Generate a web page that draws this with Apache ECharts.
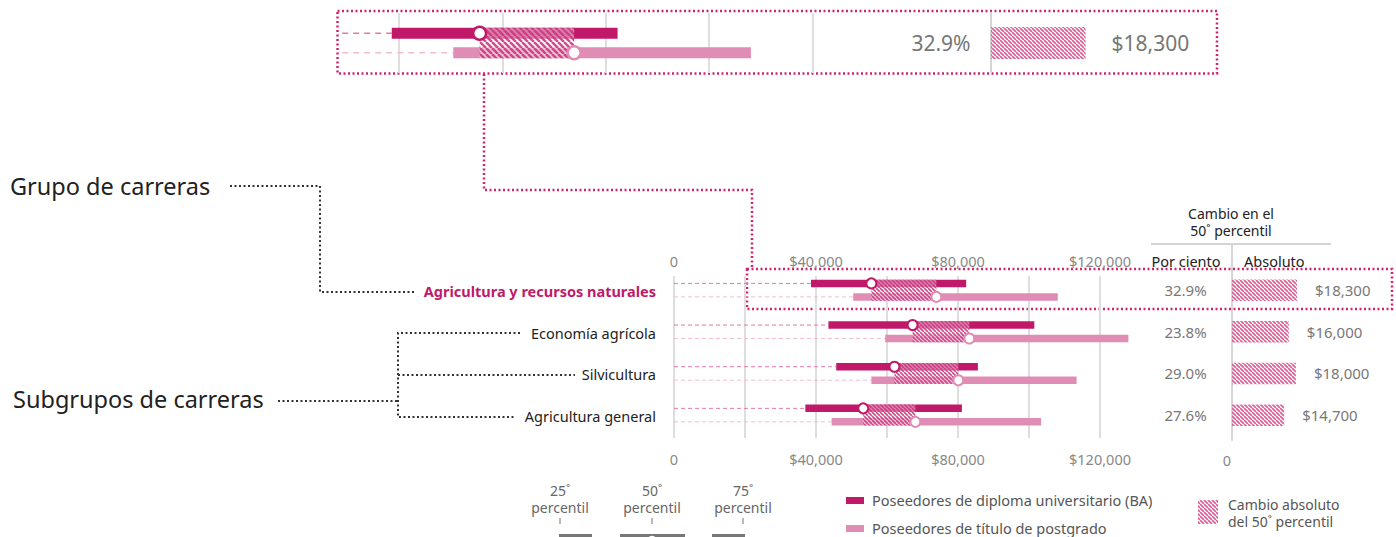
<!DOCTYPE html>
<html>
<head>
<meta charset="UTF-8">
<title>Agricultura y recursos naturales</title>
<script src="https://cdn.jsdelivr.net/npm/echarts@6/dist/echarts.min.js"></script>
<style>
  html, body { margin: 0; padding: 0; background: #fff; }
  #chart { width: 1396px; height: 537px; }
</style>
</head>
<body>
<div id="chart"></div>
<script>
// 数据
var categories = ['Agricultura y recursos naturales', 'Economía agrícola', 'Silvicultura', 'Agricultura general'];
var baP25 = [38600, 43500, 45700, 37000];
var baP50 = [55600, 67200, 62100, 53300];
var baP75 = [82300, 101500, 85600, 81100];
var gradP25 = [50500, 59500, 55600, 44400];
var gradP50 = [73900, 83200, 80100, 68000];
var gradP75 = [108100, 128000, 113400, 103400];
var pctChange = ['32.9%', '23.8%', '29.0%', '27.6%'];
var absChange = [18300, 16000, 18000, 14700];
var xTickLabels = [0, 40000, 80000, 120000];
var insetDashFrom = 29000;

var BA = '#c0196a', GRAD = '#e08db5', FONT = '"Noto Sans", sans-serif';

function money(v) { return v === 0 ? '0' : '$' + v.toLocaleString('en-US'); }

// 斜线纹理
function hatch(size, stripe, bg) {
  var cv = document.createElement('canvas');
  cv.width = size; cv.height = size;
  var ctx = cv.getContext('2d');
  if (bg) { ctx.fillStyle = bg; ctx.fillRect(0, 0, size, size); }
  ctx.strokeStyle = stripe;
  ctx.lineWidth = size * 0.42;
  ctx.beginPath();
  for (var k = -1; k <= 1; k++) { ctx.moveTo(k * size, 0); ctx.lineTo(k * size + size, size); }
  ctx.stroke();
  return { image: cv, repeat: 'repeat', imageWidth: size, imageHeight: size };
}
var hatchMain = hatch(4, 'rgba(205,55,128,0.9)', 'rgba(255,255,255,0.45)');
var hatchInset = hatch(6, 'rgba(205,55,128,0.9)', 'rgba(255,255,255,0.45)');
var hatchAbs = hatch(4, '#dc5f98', null);

var rows = categories.map(function (c, i) {
  return [i, baP25[i], baP50[i], baP75[i], gradP25[i], gradP50[i], gradP75[i]];
});

function rangeRender(o) {
  return function (params, api) {
    var row = api.value(0);
    var yc = api.coord([0, row])[1];
    var yB = yc - o.off, yG = yc + o.off;
    var X = function (v) { return api.coord([v, row])[0]; };
    var xs = X(o.dashFrom);
    var b25 = X(api.value(1)), b50 = X(api.value(2)), b75 = X(api.value(3));
    var g25 = X(api.value(4)), g50 = X(api.value(5)), g75 = X(api.value(6));
    var h = o.barH;
    var kids = [
      { type: 'line', shape: { x1: xs, y1: yB, x2: b25, y2: yB }, style: { stroke: '#e27aa9', lineWidth: o.dashW, lineDash: o.dash } },
      { type: 'line', shape: { x1: xs, y1: yG, x2: g25, y2: yG }, style: { stroke: '#f2bcd4', lineWidth: o.dashW, lineDash: o.dash } },
      { type: 'rect', shape: { x: b25, y: yB - h / 2, width: b75 - b25, height: h }, style: { fill: BA } },
      { type: 'rect', shape: { x: g25, y: yG - h / 2, width: g75 - g25, height: h }, style: { fill: GRAD } },
      { type: 'rect', shape: { x: b50, y: yB - h / 2, width: g50 - b50, height: yG - yB + h }, style: { fill: o.pattern } },
      { type: 'circle', shape: { cx: b50, cy: yB, r: o.r }, style: { fill: '#fff', stroke: BA, lineWidth: o.rw } },
      { type: 'circle', shape: { cx: g50, cy: yG, r: o.r }, style: { fill: '#fff', stroke: GRAD, lineWidth: o.rw } }
    ];
    if (o.labels) {
      kids.push({
        type: 'text', x: X(0) - 18, y: yc + 1,
        style: {
          text: categories[row], align: 'right', verticalAlign: 'middle',
          fill: row === 0 ? BA : '#222', fontFamily: FONT,
          fontSize: 14.5, fontWeight: row === 0 ? 'bold' : 'normal'
        }
      });
    }
    return { type: 'group', children: kids };
  };
}

function absRender(o) {
  return function (params, api) {
    var row = api.value(0);
    var p0 = api.coord([0, row]);
    var w = api.size([api.value(1), 0])[0];
    return {
      type: 'group', children: [
        { type: 'rect', shape: { x: p0[0], y: p0[1] - o.h / 2, width: w, height: o.h }, style: { fill: o.pattern } },
        { type: 'text', x: p0[0] - o.pctGap, y: p0[1], style: { text: pctChange[row], align: 'center', verticalAlign: 'middle', fill: '#777', fontFamily: FONT, fontSize: o.fs } },
        { type: 'text', x: p0[0] + w + o.valGap, y: p0[1], style: { text: money(api.value(1)), align: 'left', verticalAlign: 'middle', fill: '#777', fontFamily: FONT, fontSize: o.fs } }
      ]
    };
  };
}

var axisLbl = { color: '#888', fontSize: 14.5, fontFamily: FONT, interval: 0,
  formatter: function (v) { return xTickLabels.indexOf(v) >= 0 ? money(v) : ''; } };

var gridLine = { show: true, lineStyle: { color: '#dedede', width: 2 } };

var txt = function (x, y, s, size, color, align, lh) {
  return { type: 'text', x: x, y: y, style: { text: s, fill: color, fontSize: size, fontFamily: FONT, align: align || 'left', verticalAlign: 'middle', lineHeight: lh || Math.ceil(size * 1.25) } };
};
var dotted = function (pts, color, w) {
  return { type: 'polyline', shape: { points: pts }, style: { stroke: color, lineWidth: w, lineDash: [2, 2.5], fill: null } };
};
var MAG = '#d1246f';

var chart = echarts.init(document.getElementById('chart'), null, { renderer: 'svg' });
chart.setOption({
  animation: false,
  grid: [
    { left: 674, top: 276, width: 461.5, height: 162 },
    { left: 295.65, top: 13, width: 516.75, height: 60 },
    { left: 1232, top: 245, width: 142, height: 195 },
    { left: 991, top: 13, width: 206.7, height: 60 }
  ],
  xAxis: [
    { gridIndex: 0, type: 'value', position: 'bottom', min: 0, max: 130000, interval: 20000,
      axisLine: { show: false }, axisTick: { show: false }, axisLabel: Object.assign({ margin: 13 }, axisLbl),
      splitLine: Object.assign({ showMaxLine: false }, gridLine) },
    { gridIndex: 0, type: 'value', position: 'top', min: 0, max: 130000, interval: 20000,
      axisLine: { show: false }, axisTick: { show: false }, axisLabel: Object.assign({ margin: 8 }, axisLbl),
      splitLine: { show: false } },
    { gridIndex: 1, type: 'value', min: 20000, max: 120000, interval: 20000,
      axisLine: { show: false }, axisTick: { show: false }, axisLabel: { show: false },
      splitLine: Object.assign({ showMinLine: false }, gridLine) },
    { gridIndex: 2, type: 'value', min: 0, max: 40000, interval: 20000,
      axisLine: { show: false }, axisTick: { show: false }, splitLine: { show: false },
      axisLabel: { color: '#888', fontSize: 14.5, fontFamily: FONT, margin: 12, padding: [0, 10, 0, 0],
        formatter: function (v) { return v === 0 ? '0' : ''; } } },
    { gridIndex: 3, type: 'value', min: 0, max: 40000, show: false }
  ],
  yAxis: [
    { gridIndex: 0, type: 'value', inverse: true, min: -0.34, max: 3.55, show: false },
    { gridIndex: 1, type: 'value', inverse: true, min: -0.5, max: 0.5, show: false },
    { gridIndex: 2, type: 'value', inverse: true, min: -1.085, max: 3.597,
      axisLine: { show: true, lineStyle: { color: '#d5d5d5', width: 2 } },
      axisTick: { show: false }, axisLabel: { show: false }, splitLine: { show: false } },
    { gridIndex: 3, type: 'value', inverse: true, min: -0.5, max: 0.5,
      axisLine: { show: true, lineStyle: { color: '#d5d5d5', width: 2 } },
      axisTick: { show: false }, axisLabel: { show: false }, splitLine: { show: false } }
  ],
  series: [
    { type: 'custom', xAxisIndex: 0, yAxisIndex: 0, data: rows, encode: { x: [1, 2, 3, 4, 5, 6], y: 0 },
      renderItem: rangeRender({ dashFrom: 0, off: 6.75, barH: 7.5, r: 5, rw: 2, dash: [4, 3], dashW: 1, pattern: hatchMain, labels: true }) },
    { type: 'custom', xAxisIndex: 2, yAxisIndex: 1, data: rows.slice(0, 1), encode: { x: [1, 2, 3, 4, 5, 6], y: 0 },
      renderItem: rangeRender({ dashFrom: insetDashFrom, off: 9.75, barH: 11, r: 6.5, rw: 2.5, dash: [6, 5], dashW: 1.5, pattern: hatchInset, labels: false }) },
    { type: 'custom', xAxisIndex: 3, yAxisIndex: 2, data: absChange.map(function (v, i) { return [i, v]; }), encode: { x: 1, y: 0 },
      renderItem: absRender({ h: 21.5, pattern: hatchAbs, pctGap: 46.5, valGap: 18, fs: 15 }) },
    { type: 'custom', xAxisIndex: 4, yAxisIndex: 3, data: [[0, absChange[0]]], encode: { x: 1, y: 0 },
      renderItem: absRender({ h: 32, pattern: hatchAbs, pctGap: 50, valGap: 26, fs: 21 }) }
  ],
  graphic: [
    // 表头
    txt(1231, 222, 'Cambio en el\n50˚ percentil', 14, '#222', 'center', 17.5),
    { type: 'line', shape: { x1: 1151, y1: 244, x2: 1331, y2: 244 }, style: { stroke: '#d5d5d5', lineWidth: 2 } },
    txt(1186, 261, 'Por ciento', 14.5, '#222', 'center'),
    txt(1244, 261, 'Absoluto', 14.5, '#222', 'left'),
    // 左侧注释
    txt(10, 186, 'Grupo de carreras', 23.5, '#222'),
    dotted([[230, 186], [320, 186], [320, 292], [415, 292]], '#333', 2),
    txt(13, 399, 'Subgrupos de carreras', 23.5, '#222'),
    dotted([[278, 401], [398, 401]], '#333', 2),
    dotted([[520, 333], [398, 333], [398, 417], [516, 417]], '#333', 2),
    dotted([[398, 375], [575, 375]], '#333', 2),
    // 放大框
    { type: 'rect', shape: { x: 337.5, y: 11, width: 879.5, height: 62.5 }, style: { fill: null, stroke: MAG, lineWidth: 2.5, lineDash: [2, 2.5] } },
    dotted([[484, 74], [484, 190], [752, 190], [752, 269]], MAG, 2.5),
    { type: 'rect', shape: { x: 747, y: 269, width: 645, height: 40 }, style: { fill: null, stroke: MAG, lineWidth: 2.5, lineDash: [2, 2.5] } },
    // 百分位图例
    txt(560, 499, '25˚\npercentil', 14, '#666', 'center', 17.5),
    txt(652, 499, '50˚\npercentil', 14, '#666', 'center', 17.5),
    txt(743, 499, '75˚\npercentil', 14, '#666', 'center', 17.5),
    { type: 'line', shape: { x1: 560, y1: 518, x2: 560, y2: 524 }, style: { stroke: '#777', lineWidth: 1 } },
    { type: 'line', shape: { x1: 652, y1: 518, x2: 652, y2: 524 }, style: { stroke: '#777', lineWidth: 1 } },
    { type: 'line', shape: { x1: 743, y1: 518, x2: 743, y2: 524 }, style: { stroke: '#777', lineWidth: 1 } },
    { type: 'rect', shape: { x: 559, y: 534, width: 33, height: 4 }, style: { fill: '#777' } },
    { type: 'rect', shape: { x: 620, y: 534, width: 65, height: 4 }, style: { fill: '#777' } },
    { type: 'circle', shape: { cx: 652, cy: 540, r: 5 }, style: { fill: '#fff', stroke: '#777', lineWidth: 1.5 } },
    { type: 'rect', shape: { x: 712, y: 534, width: 33, height: 4 }, style: { fill: '#777' } },
    // 颜色图例
    { type: 'rect', shape: { x: 846, y: 497, width: 18, height: 7 }, style: { fill: BA } },
    txt(872, 500, 'Poseedores de diploma universitario (BA)', 14.5, '#555'),
    { type: 'rect', shape: { x: 846, y: 525, width: 18, height: 7 }, style: { fill: GRAD } },
    txt(872, 528, 'Poseedores de título de postgrado', 14.5, '#555'),
    { type: 'rect', shape: { x: 1198, y: 500, width: 20, height: 24 }, style: { fill: hatchAbs } },
    txt(1228, 513, 'Cambio absoluto\ndel 50˚ percentil', 14, '#555', 'left', 17.5)
  ]
});
</script>
</body>
</html>
